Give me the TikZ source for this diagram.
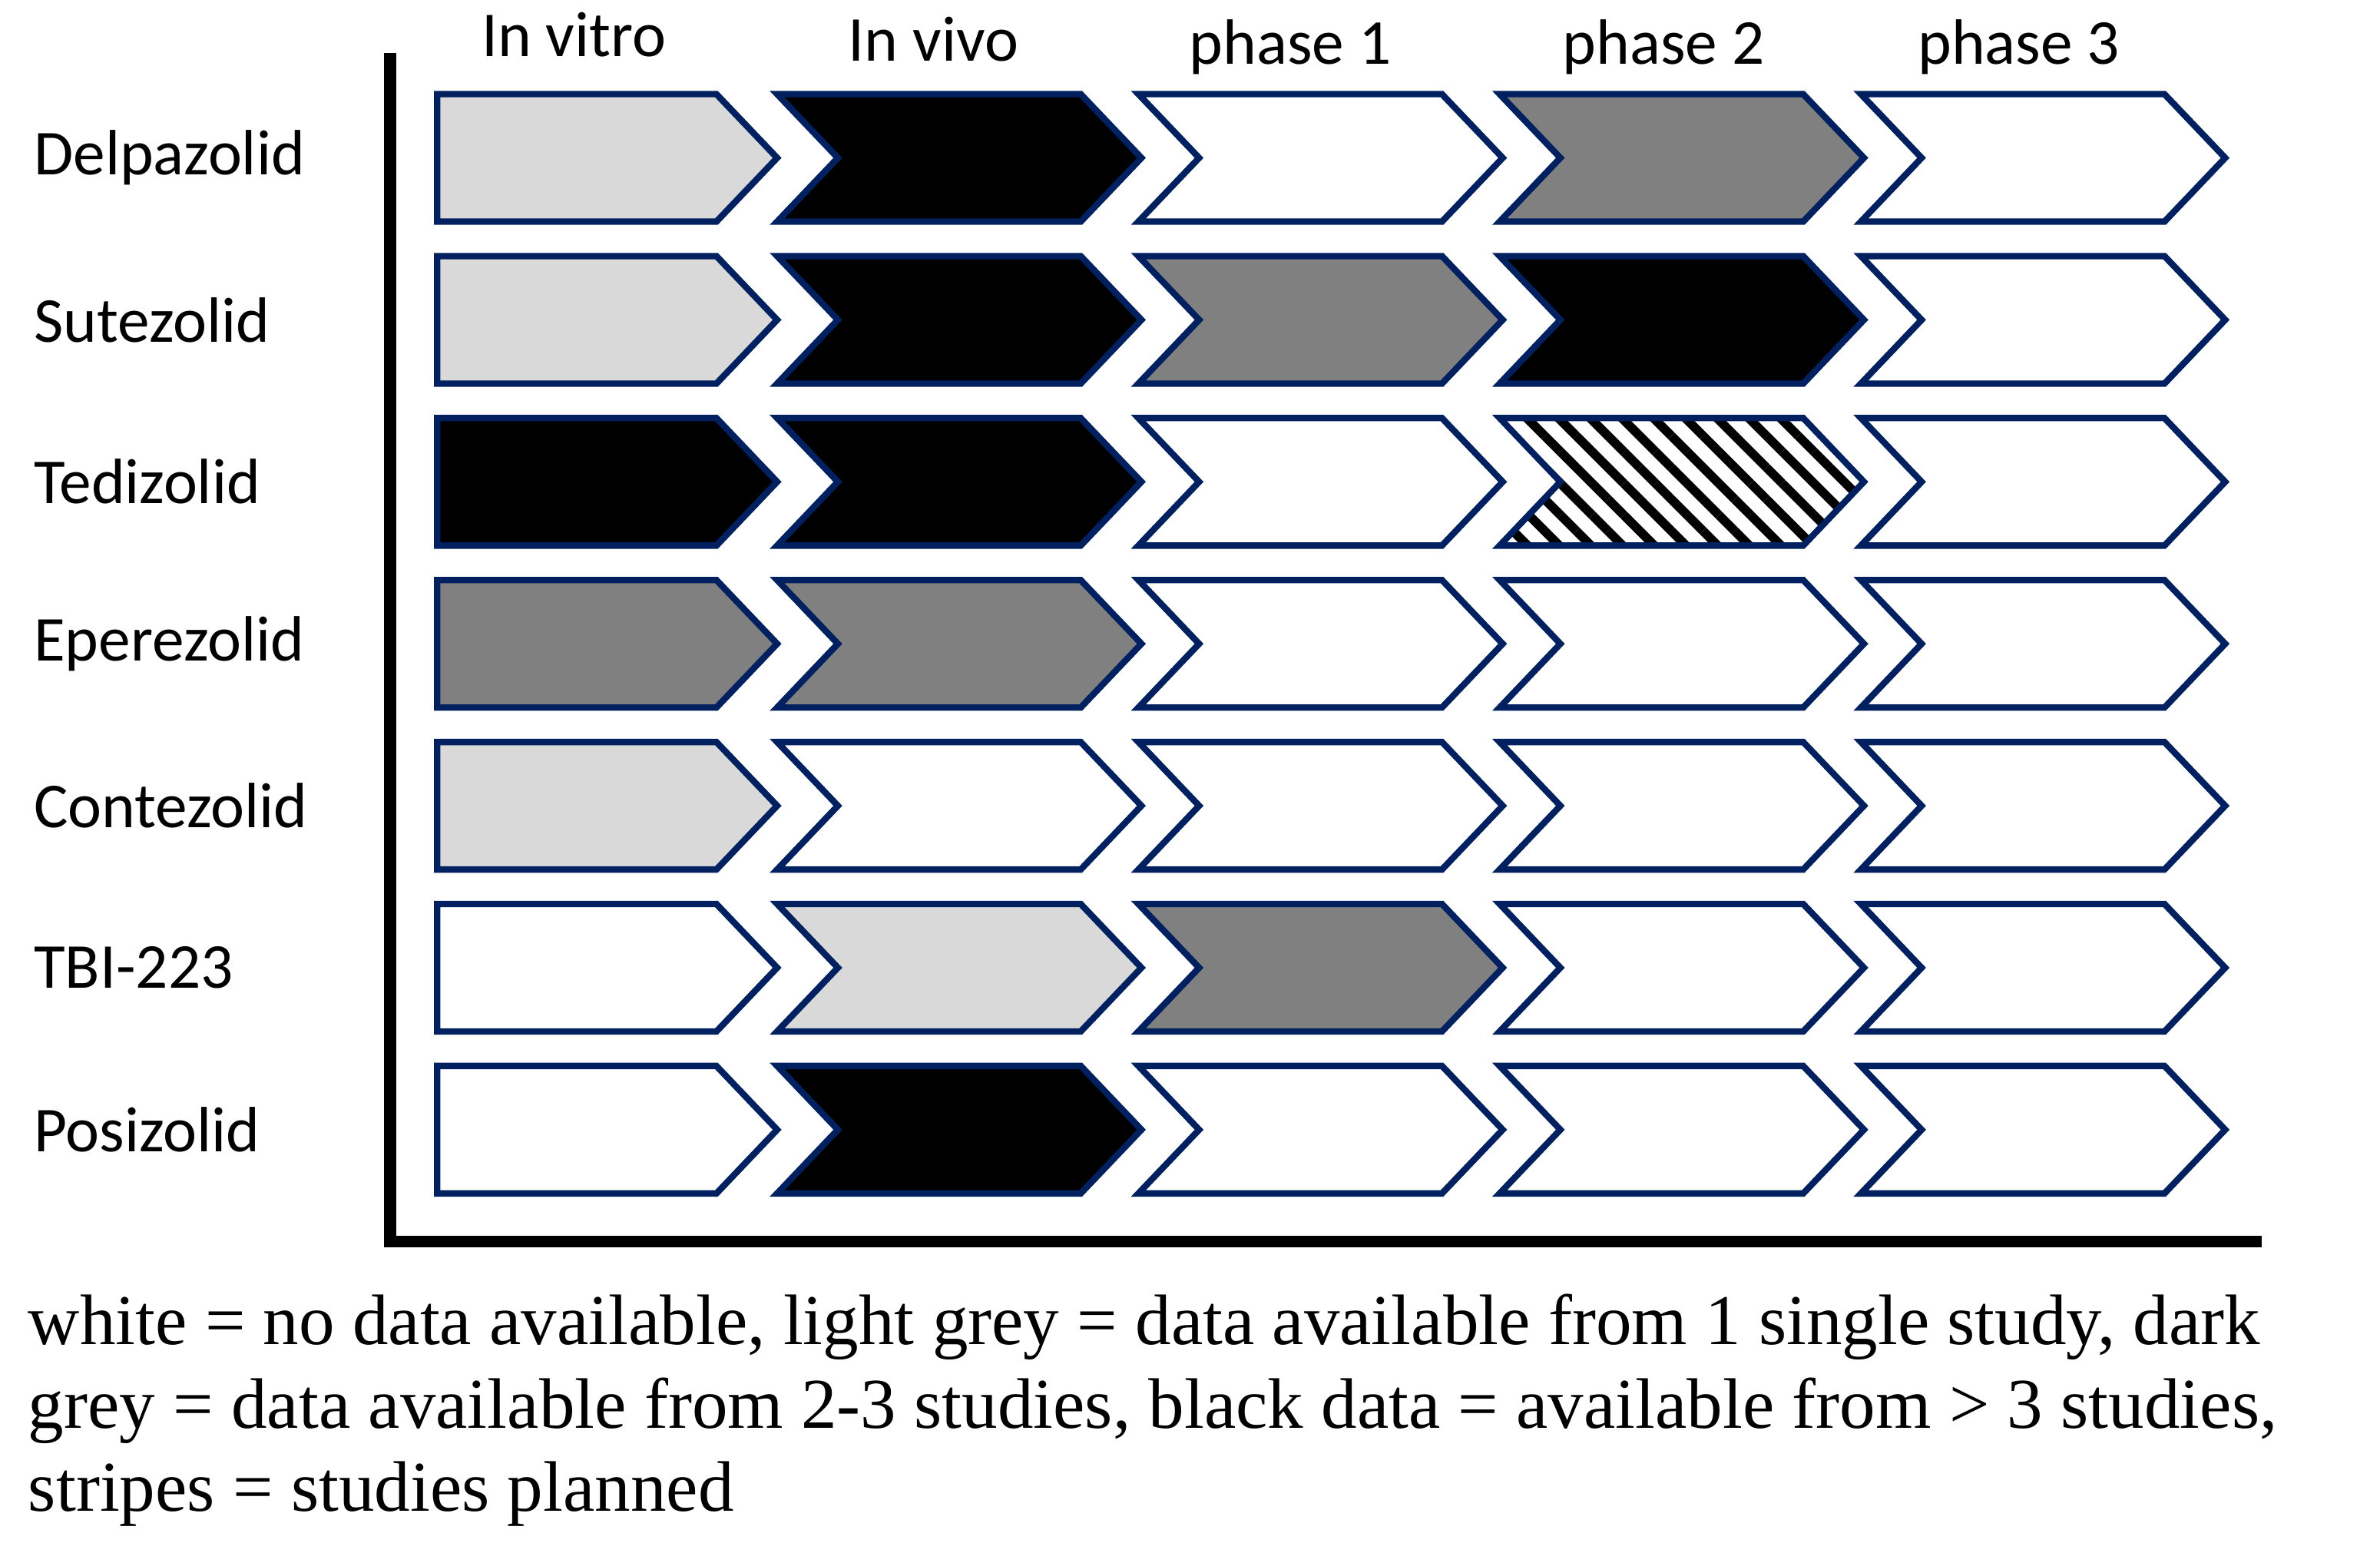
\documentclass[tikz,border=0pt]{standalone}
\usepackage{fontspec}
\setmainfont{Liberation Serif}
\newfontfamily\labelfont{Carlito}
\usetikzlibrary{patterns.meta}
\definecolor{edgeblue}{RGB}{0,32,96}

\begin{document}
\begin{tikzpicture}[
    x=0.1mm, y=-0.1mm,
    stage/.style={draw=edgeblue, line width=1.2pt, line join=miter},
    stage w/.style={fill=white},
    stage l/.style={fill=black!15},
    stage d/.style={fill=black!50},
    stage b/.style={fill=black},
    stage s/.style={fill=white, pattern={Lines[angle=-45, distance=4.2pt, line width=1.7pt]}},
    head/.style={font=\labelfont\fontsize{12}{14}\selectfont, anchor=base},
    drug/.style={font=\labelfont\fontsize{12}{14}\selectfont, anchor=west},
    axis/.style={line width=2.2pt}
]
\useasboundingbox (0,0) rectangle (1568,1023);

% column headers
\node[head] (hvitro) at (378,37) {In vitro};
\node[head] (hvivo) at (615,40) {In vivo};
\node[head] (hp1) at (850,42) {phase 1};
\node[head] (hp2) at (1096,42) {phase 2};
\node[head] (hp3) at (1330,42) {phase 3};

% axes
\coordinate (top) at (257,35);
\coordinate (origin) at (257,818);
\coordinate (right) at (1490,818);
\draw[axis] (top) -- (origin) -- (right);

% one row per compound
\foreach \r/\name/\fills in {1/Delpazolid/{l,b,w,d,w}, 2/Sutezolid/{l,b,d,b,w},
    3/Tedizolid/{b,b,w,s,w}, 4/Eperezolid/{d,d,w,w,w}, 5/Contezolid/{l,w,w,w,w},
    6/TBI-223/{w,l,d,w,w}, 7/Posizolid/{w,b,w,w,w}} {
  \pgfmathsetmacro{\T}{104+106.7*(\r-1)-42}
  \node[drug] (drug\r) at (10,\T+42) {\name};
  \foreach \f [count=\c] in \fills {
    \ifnum\c=1
      \path[stage, stage \f] (288,\T) -- ++(184,0) -- ++(40,42) -- ++(-40,42) -- ++(-184,0) -- cycle;
    \else
      \pgfmathsetmacro{\L}{512+238*(\c-2)}
      \path[stage, stage \f] (\L,\T) -- ++(200,0) -- ++(40,42) -- ++(-40,42) -- ++(-200,0) -- ++(40,-42) -- cycle;
    \fi
  }
}

% legend
\node[anchor=north west, align=left, inner sep=0pt, font=\fontsize{13.4}{15.6}\selectfont] (legend) at (18,852)
  {white = no data available, light grey = data available from 1 single study, dark\\
   grey = data available from 2-3 studies, black data = available from > 3 studies,\\
   stripes = studies planned};
\end{tikzpicture}
\end{document}
